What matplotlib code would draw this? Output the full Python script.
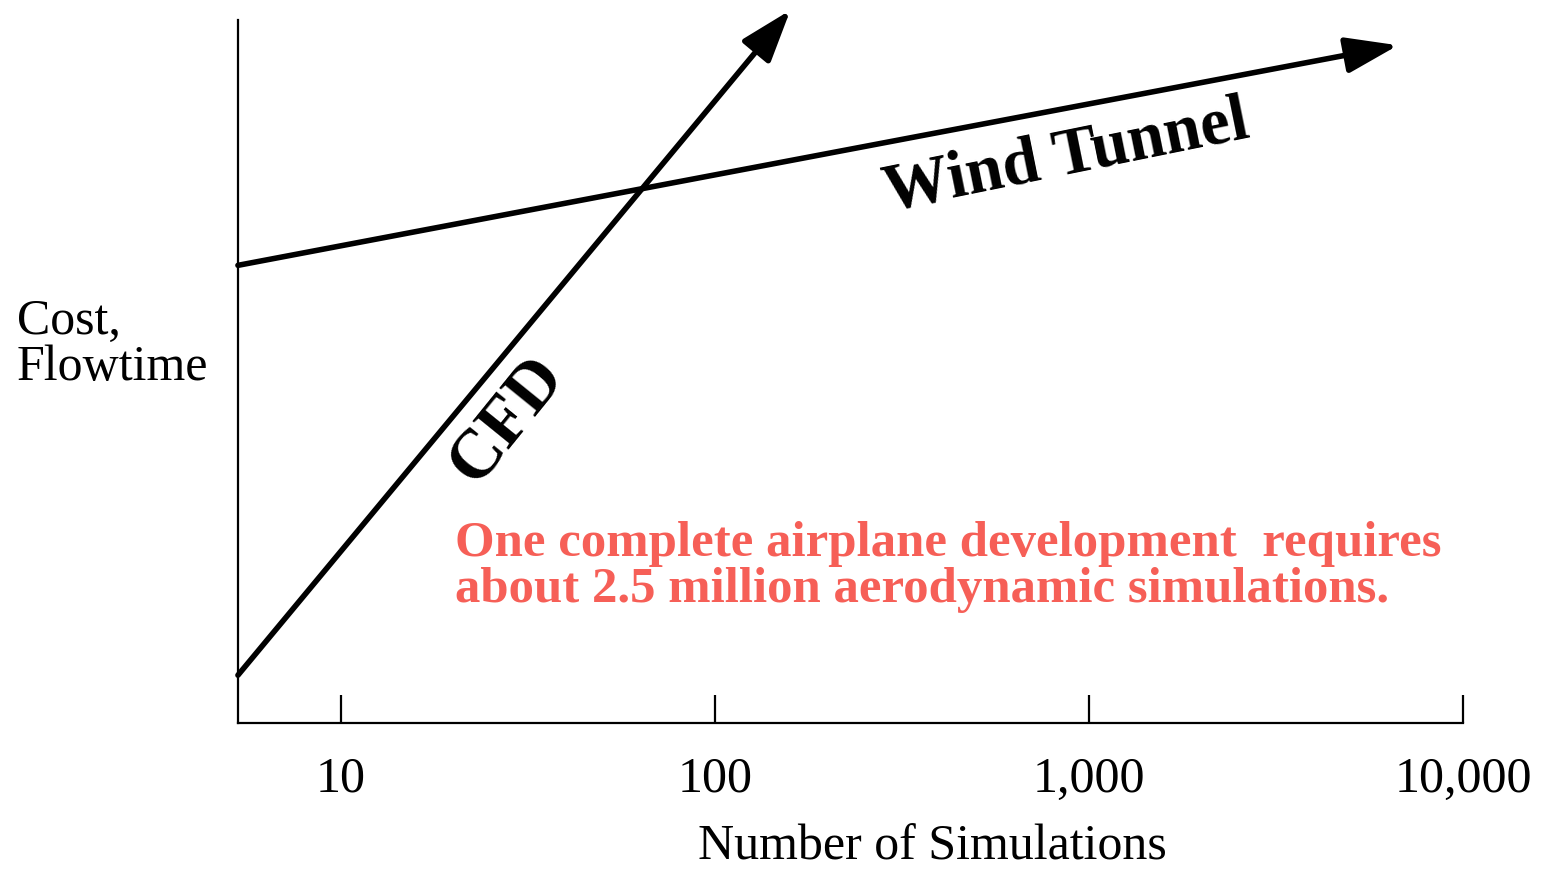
import matplotlib.pyplot as plt

plt.rcParams['font.family'] = 'Liberation Serif'

# axis ticks (log scale, number of simulations)
tick_vals = [10, 100, 1000, 10000]
tick_labels = ['10', '100', '1,000', '10,000']

# trend lines: start and arrow tip (x = simulations, y = relative cost)
cfd_x = [5.3, 159]
cfd_y = [6.8, 101.4]
wt_x = [5.3, 6700]
wt_y = [65.1, 96.4]

note = 'One complete airplane development  requires\nabout 2.5 million aerodynamic simulations.'

fig = plt.figure(figsize=(15.43, 8.69), dpi=100)
ax = fig.add_axes([0.1542, 0.168, 0.794, 0.809])
ax.set_xscale('log')
ax.set_xlim(5.3, 10000)
ax.set_ylim(0, 100)

for s in ['top', 'right']:
    ax.spines[s].set_visible(False)
ax.spines['left'].set_linewidth(1.6)
ax.spines['bottom'].set_linewidth(1.6)

ax.set_xticks(tick_vals)
ax.set_xticklabels(tick_labels)
ax.xaxis.set_minor_locator(plt.NullLocator())
ax.tick_params(axis='x', direction='in', length=20, width=1.6, labelsize=36, pad=24)
ax.set_yticks([])

arrow = dict(arrowstyle='-|>,head_length=32,head_width=11', lw=4.0, color='black',
             shrinkA=0, shrinkB=0, mutation_scale=1)
ax.annotate('', xy=(cfd_x[1], cfd_y[1]), xytext=(cfd_x[0], cfd_y[0]),
            arrowprops=arrow, annotation_clip=False)
ax.annotate('', xy=(wt_x[1], wt_y[1]), xytext=(wt_x[0], wt_y[0]),
            arrowprops=arrow, annotation_clip=False)

# line labels
ax.text(870, 80.5, 'Wind Tunnel', fontsize=48, fontweight='bold', rotation=11.5,
        ha='center', va='center', rotation_mode='anchor')
ax.text(28, 43, 'CFD', fontsize=50, fontweight='bold', rotation=51,
        ha='center', va='center', rotation_mode='anchor')

ax.text(0.177, 0.287, note, transform=ax.transAxes, fontsize=36.6, fontweight='bold',
        color='#f65f57', ha='left', va='top', linespacing=1.0)

fig.text(17 / 1543, 1 - 298 / 869, 'Cost,\nFlowtime', fontsize=36, ha='left', va='top',
         linespacing=1.0)

ax.set_xlabel('Number of Simulations', fontsize=36)
ax.xaxis.set_label_coords(0.567, -0.143)

fig.savefig('out.png', dpi=100)
